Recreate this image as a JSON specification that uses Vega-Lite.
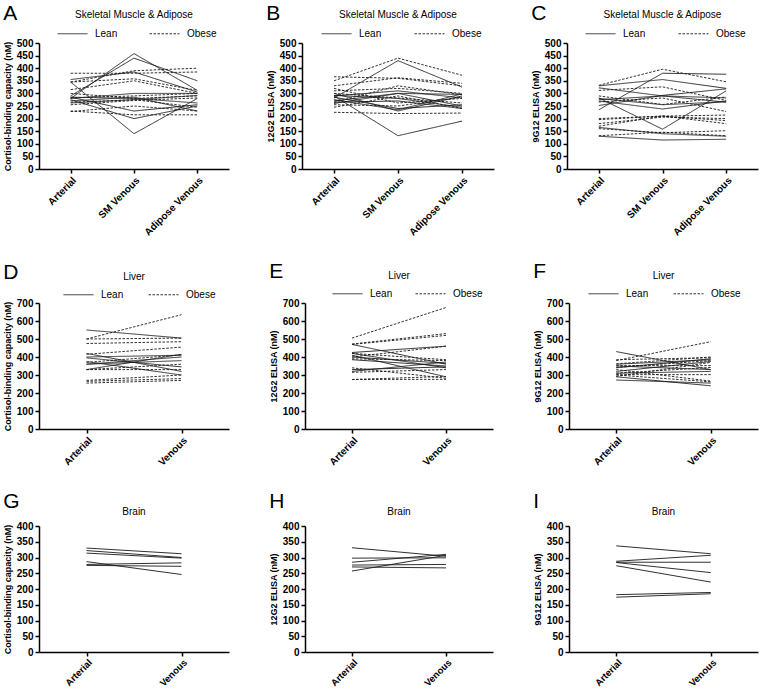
{
  "$schema": "https://vega.github.io/schema/vega-lite/v6.json",
  "background": "white",
  "padding": {"left": 3, "top": 3, "right": 2, "bottom": 0},
  "data": {"values": [
    {"p":"A","id":"L1","g":"Lean","Arterial":345,"SM Venous":140,"Adipose Venous":280},
    {"p":"A","id":"L2","g":"Lean","Arterial":290,"SM Venous":440,"Adipose Venous":350},
    {"p":"A","id":"L3","g":"Lean","Arterial":280,"SM Venous":458,"Adipose Venous":312},
    {"p":"A","id":"L4","g":"Lean","Arterial":285,"SM Venous":230,"Adipose Venous":255},
    {"p":"A","id":"L5","g":"Lean","Arterial":275,"SM Venous":200,"Adipose Venous":250},
    {"p":"A","id":"L6","g":"Lean","Arterial":280,"SM Venous":300,"Adipose Venous":300},
    {"p":"A","id":"L7","g":"Lean","Arterial":270,"SM Venous":285,"Adipose Venous":230},
    {"p":"A","id":"L8","g":"Lean","Arterial":285,"SM Venous":280,"Adipose Venous":262},
    {"p":"A","id":"L9","g":"Lean","Arterial":262,"SM Venous":275,"Adipose Venous":292},
    {"p":"A","id":"L10","g":"Lean","Arterial":355,"SM Venous":385,"Adipose Venous":305},
    {"p":"A","id":"O1","g":"Obese","Arterial":380,"SM Venous":380,"Adipose Venous":385},
    {"p":"A","id":"O2","g":"Obese","Arterial":345,"SM Venous":390,"Adipose Venous":400},
    {"p":"A","id":"O3","g":"Obese","Arterial":345,"SM Venous":358,"Adipose Venous":312},
    {"p":"A","id":"O4","g":"Obese","Arterial":315,"SM Venous":350,"Adipose Venous":300},
    {"p":"A","id":"O5","g":"Obese","Arterial":282,"SM Venous":290,"Adipose Venous":300},
    {"p":"A","id":"O6","g":"Obese","Arterial":230,"SM Venous":215,"Adipose Venous":215},
    {"p":"A","id":"O7","g":"Obese","Arterial":228,"SM Venous":250,"Adipose Venous":230},
    {"p":"A","id":"O8","g":"Obese","Arterial":300,"SM Venous":280,"Adipose Venous":290},
    {"p":"A","id":"O9","g":"Obese","Arterial":265,"SM Venous":275,"Adipose Venous":245},
    {"p":"A","id":"O10","g":"Obese","Arterial":255,"SM Venous":272,"Adipose Venous":282},

    {"p":"B","id":"L1","g":"Lean","Arterial":290,"SM Venous":132,"Adipose Venous":190},
    {"p":"B","id":"L2","g":"Lean","Arterial":282,"SM Venous":430,"Adipose Venous":325},
    {"p":"B","id":"L3","g":"Lean","Arterial":300,"SM Venous":230,"Adipose Venous":290},
    {"p":"B","id":"L4","g":"Lean","Arterial":270,"SM Venous":300,"Adipose Venous":250},
    {"p":"B","id":"L5","g":"Lean","Arterial":292,"SM Venous":280,"Adipose Venous":245},
    {"p":"B","id":"L6","g":"Lean","Arterial":260,"SM Venous":300,"Adipose Venous":296},
    {"p":"B","id":"L7","g":"Lean","Arterial":285,"SM Venous":240,"Adipose Venous":255},
    {"p":"B","id":"L8","g":"Lean","Arterial":265,"SM Venous":270,"Adipose Venous":240},
    {"p":"B","id":"L9","g":"Lean","Arterial":290,"SM Venous":310,"Adipose Venous":282},
    {"p":"B","id":"L10","g":"Lean","Arterial":275,"SM Venous":235,"Adipose Venous":298},
    {"p":"B","id":"O1","g":"Obese","Arterial":350,"SM Venous":440,"Adipose Venous":372},
    {"p":"B","id":"O2","g":"Obese","Arterial":366,"SM Venous":360,"Adipose Venous":330},
    {"p":"B","id":"O3","g":"Obese","Arterial":330,"SM Venous":362,"Adipose Venous":340},
    {"p":"B","id":"O4","g":"Obese","Arterial":310,"SM Venous":320,"Adipose Venous":300},
    {"p":"B","id":"O5","g":"Obese","Arterial":225,"SM Venous":220,"Adipose Venous":222},
    {"p":"B","id":"O6","g":"Obese","Arterial":255,"SM Venous":250,"Adipose Venous":285},
    {"p":"B","id":"O7","g":"Obese","Arterial":300,"SM Venous":282,"Adipose Venous":262},
    {"p":"B","id":"O8","g":"Obese","Arterial":265,"SM Venous":330,"Adipose Venous":295},
    {"p":"B","id":"O9","g":"Obese","Arterial":320,"SM Venous":262,"Adipose Venous":280},
    {"p":"B","id":"O10","g":"Obese","Arterial":245,"SM Venous":290,"Adipose Venous":240},

    {"p":"C","id":"L1","g":"Lean","Arterial":282,"SM Venous":158,"Adipose Venous":310},
    {"p":"C","id":"L2","g":"Lean","Arterial":235,"SM Venous":380,"Adipose Venous":376},
    {"p":"C","id":"L3","g":"Lean","Arterial":330,"SM Venous":355,"Adipose Venous":320},
    {"p":"C","id":"L4","g":"Lean","Arterial":322,"SM Venous":290,"Adipose Venous":265},
    {"p":"C","id":"L5","g":"Lean","Arterial":270,"SM Venous":238,"Adipose Venous":270},
    {"p":"C","id":"L6","g":"Lean","Arterial":252,"SM Venous":292,"Adipose Venous":318},
    {"p":"C","id":"L7","g":"Lean","Arterial":165,"SM Venous":140,"Adipose Venous":130},
    {"p":"C","id":"L8","g":"Lean","Arterial":130,"SM Venous":115,"Adipose Venous":118},
    {"p":"C","id":"L9","g":"Lean","Arterial":275,"SM Venous":290,"Adipose Venous":282},
    {"p":"C","id":"L10","g":"Lean","Arterial":280,"SM Venous":255,"Adipose Venous":267},
    {"p":"C","id":"O1","g":"Obese","Arterial":332,"SM Venous":396,"Adipose Venous":346},
    {"p":"C","id":"O2","g":"Obese","Arterial":312,"SM Venous":326,"Adipose Venous":272},
    {"p":"C","id":"O3","g":"Obese","Arterial":266,"SM Venous":282,"Adipose Venous":228},
    {"p":"C","id":"O4","g":"Obese","Arterial":196,"SM Venous":210,"Adipose Venous":214},
    {"p":"C","id":"O5","g":"Obese","Arterial":180,"SM Venous":206,"Adipose Venous":200},
    {"p":"C","id":"O6","g":"Obese","Arterial":170,"SM Venous":210,"Adipose Venous":180},
    {"p":"C","id":"O7","g":"Obese","Arterial":160,"SM Venous":144,"Adipose Venous":152},
    {"p":"C","id":"O8","g":"Obese","Arterial":132,"SM Venous":146,"Adipose Venous":132},
    {"p":"C","id":"O9","g":"Obese","Arterial":290,"SM Venous":256,"Adipose Venous":286},
    {"p":"C","id":"O10","g":"Obese","Arterial":200,"SM Venous":210,"Adipose Venous":192},

    {"p":"D","id":"L1","g":"Lean","Arterial":550,"Venous":505},
    {"p":"D","id":"L2","g":"Lean","Arterial":420,"Venous":320},
    {"p":"D","id":"L3","g":"Lean","Arterial":400,"Venous":410},
    {"p":"D","id":"L4","g":"Lean","Arterial":360,"Venous":380},
    {"p":"D","id":"L5","g":"Lean","Arterial":375,"Venous":300},
    {"p":"D","id":"L6","g":"Lean","Arterial":395,"Venous":345},
    {"p":"D","id":"L7","g":"Lean","Arterial":330,"Venous":415},
    {"p":"D","id":"L8","g":"Lean","Arterial":360,"Venous":400},
    {"p":"D","id":"O1","g":"Obese","Arterial":500,"Venous":635},
    {"p":"D","id":"O2","g":"Obese","Arterial":500,"Venous":505},
    {"p":"D","id":"O3","g":"Obese","Arterial":475,"Venous":485},
    {"p":"D","id":"O4","g":"Obese","Arterial":415,"Venous":455},
    {"p":"D","id":"O5","g":"Obese","Arterial":330,"Venous":360},
    {"p":"D","id":"O6","g":"Obese","Arterial":265,"Venous":280},
    {"p":"D","id":"O7","g":"Obese","Arterial":255,"Venous":270},
    {"p":"D","id":"O8","g":"Obese","Arterial":270,"Venous":300},
    {"p":"D","id":"O9","g":"Obese","Arterial":330,"Venous":330},
    {"p":"D","id":"O10","g":"Obese","Arterial":370,"Venous":412},

    {"p":"E","id":"L1","g":"Lean","Arterial":470,"Venous":360},
    {"p":"E","id":"L2","g":"Lean","Arterial":425,"Venous":460},
    {"p":"E","id":"L3","g":"Lean","Arterial":420,"Venous":340},
    {"p":"E","id":"L4","g":"Lean","Arterial":410,"Venous":290},
    {"p":"E","id":"L5","g":"Lean","Arterial":330,"Venous":345},
    {"p":"E","id":"L6","g":"Lean","Arterial":400,"Venous":365},
    {"p":"E","id":"L7","g":"Lean","Arterial":385,"Venous":350},
    {"p":"E","id":"L8","g":"Lean","Arterial":320,"Venous":372},
    {"p":"E","id":"O1","g":"Obese","Arterial":505,"Venous":675},
    {"p":"E","id":"O2","g":"Obese","Arterial":472,"Venous":530},
    {"p":"E","id":"O3","g":"Obese","Arterial":470,"Venous":520},
    {"p":"E","id":"O4","g":"Obese","Arterial":420,"Venous":385},
    {"p":"E","id":"O5","g":"Obese","Arterial":390,"Venous":380},
    {"p":"E","id":"O6","g":"Obese","Arterial":340,"Venous":282},
    {"p":"E","id":"O7","g":"Obese","Arterial":275,"Venous":292},
    {"p":"E","id":"O8","g":"Obese","Arterial":315,"Venous":330},
    {"p":"E","id":"O9","g":"Obese","Arterial":275,"Venous":276},
    {"p":"E","id":"O10","g":"Obese","Arterial":400,"Venous":460},

    {"p":"F","id":"L1","g":"Lean","Arterial":430,"Venous":330},
    {"p":"F","id":"L2","g":"Lean","Arterial":360,"Venous":385},
    {"p":"F","id":"L3","g":"Lean","Arterial":290,"Venous":240},
    {"p":"F","id":"L4","g":"Lean","Arterial":340,"Venous":390},
    {"p":"F","id":"L5","g":"Lean","Arterial":310,"Venous":320},
    {"p":"F","id":"L6","g":"Lean","Arterial":272,"Venous":255},
    {"p":"F","id":"L7","g":"Lean","Arterial":350,"Venous":330},
    {"p":"F","id":"L8","g":"Lean","Arterial":320,"Venous":375},
    {"p":"F","id":"O1","g":"Obese","Arterial":380,"Venous":485},
    {"p":"F","id":"O2","g":"Obese","Arterial":385,"Venous":396},
    {"p":"F","id":"O3","g":"Obese","Arterial":362,"Venous":400},
    {"p":"F","id":"O4","g":"Obese","Arterial":330,"Venous":266},
    {"p":"F","id":"O5","g":"Obese","Arterial":300,"Venous":262},
    {"p":"F","id":"O6","g":"Obese","Arterial":310,"Venous":342},
    {"p":"F","id":"O7","g":"Obese","Arterial":292,"Venous":370},
    {"p":"F","id":"O8","g":"Obese","Arterial":352,"Venous":352},
    {"p":"F","id":"O9","g":"Obese","Arterial":302,"Venous":302},
    {"p":"F","id":"O10","g":"Obese","Arterial":342,"Venous":380},

    {"p":"G","id":"L1","g":"Lean","Arterial":330,"Venous":312},
    {"p":"G","id":"L2","g":"Lean","Arterial":322,"Venous":300},
    {"p":"G","id":"L3","g":"Lean","Arterial":314,"Venous":298},
    {"p":"G","id":"L4","g":"Lean","Arterial":287,"Venous":246},
    {"p":"G","id":"L5","g":"Lean","Arterial":278,"Venous":283},
    {"p":"G","id":"L6","g":"Lean","Arterial":275,"Venous":272},

    {"p":"H","id":"L1","g":"Lean","Arterial":331,"Venous":304},
    {"p":"H","id":"L2","g":"Lean","Arterial":298,"Venous":299},
    {"p":"H","id":"L3","g":"Lean","Arterial":285,"Venous":310},
    {"p":"H","id":"L4","g":"Lean","Arterial":276,"Venous":278},
    {"p":"H","id":"L5","g":"Lean","Arterial":270,"Venous":267},
    {"p":"H","id":"L6","g":"Lean","Arterial":257,"Venous":307},

    {"p":"I","id":"L1","g":"Lean","Arterial":337,"Venous":312},
    {"p":"I","id":"L2","g":"Lean","Arterial":288,"Venous":307},
    {"p":"I","id":"L3","g":"Lean","Arterial":285,"Venous":285},
    {"p":"I","id":"L4","g":"Lean","Arterial":284,"Venous":252},
    {"p":"I","id":"L5","g":"Lean","Arterial":274,"Venous":222},
    {"p":"I","id":"L6","g":"Lean","Arterial":182,"Venous":189},
    {"p":"I","id":"L7","g":"Lean","Arterial":174,"Venous":185}
  ]},
  "config": {
    "font": "Liberation Sans",
    "view": {"stroke": null},
    "title": {"fontSize": 10, "fontWeight": "normal", "color": "black", "offset": 6, "anchor": "middle", "frame": "group"},
    "axis": {"domainColor": "black", "domainWidth": 1.5, "tickColor": "black", "tickWidth": 1.5, "tickSize": 4, "labelFontSize": 10, "labelFontWeight": "bold", "labelColor": "black", "titleFontSize": 9, "titleFontWeight": "bold", "titleColor": "black", "grid": false, "labelPadding": 2, "titlePadding": 4},
    "axisX": {"labelAngle": -45, "labelOverlap": false},
    "line": {"strokeWidth": 0.9, "color": "#1a1a1a"},
    "legend": {"labelFontSize": 10, "labelColor": "black", "labelOffset": 7, "symbolType": "stroke", "symbolSize": 900, "symbolStrokeWidth": 1, "symbolStrokeColor": "#1a1a1a", "padding": 0}
  },
  "resolve": {"scale": {"strokeDash": "independent"}, "legend": {"strokeDash": "independent"}},
  "spacing": 23,
  "vconcat": [
    {
      "spacing": 37,
      "resolve": {"scale": {"strokeDash": "independent"}, "legend": {"strokeDash": "independent"}},
      "hconcat": [
        {
          "title": {"text": "A", "anchor": "start", "frame": "bounds", "fontSize": 21, "offset": -14},
          "resolve": {"scale": {"strokeDash": "independent"}, "legend": {"strokeDash": "independent"}},
          "vconcat": [{
            "width": 190, "height": 126,
            "title": {"text": "Skeletal Muscle & Adipose", "offset": -2},
            "transform": [{"filter": "datum.p == 'A'"}, {"fold": ["Arterial", "SM Venous", "Adipose Venous"], "as": ["site", "value"]}],
            "mark": {"type": "line"},
            "encoding": {
              "x": {"field": "site", "type": "nominal", "sort": ["Arterial", "SM Venous", "Adipose Venous"], "scale": {"type": "point", "padding": 0.5}, "axis": {"title": null}},
              "y": {"field": "value", "type": "quantitative", "scale": {"domain": [0, 500], "nice": false}, "axis": {"title": "Cortisol-binding capacity (nM)", "values": [0,50,100,150,200,250,300,350,400,450,500]}},
              "strokeDash": {"field": "g", "type": "nominal", "scale": {"domain": ["Lean", "Obese"], "range": [[1, 0], [2.5, 1.5]]}, "legend": {"title": null, "orient": "none", "direction": "horizontal", "legendX": 18, "legendY": -25, "columnPadding": 29}},
              "detail": {"field": "id", "type": "nominal"}
            }
          }]
        },
        {
          "title": {"text": "B", "anchor": "start", "frame": "bounds", "fontSize": 21, "offset": -14},
          "resolve": {"scale": {"strokeDash": "independent"}, "legend": {"strokeDash": "independent"}},
          "vconcat": [{
            "width": 192, "height": 126,
            "title": {"text": "Skeletal Muscle & Adipose", "offset": -2},
            "transform": [{"filter": "datum.p == 'B'"}, {"fold": ["Arterial", "SM Venous", "Adipose Venous"], "as": ["site", "value"]}],
            "mark": {"type": "line"},
            "encoding": {
              "x": {"field": "site", "type": "nominal", "sort": ["Arterial", "SM Venous", "Adipose Venous"], "scale": {"type": "point", "padding": 0.5}, "axis": {"title": null}},
              "y": {"field": "value", "type": "quantitative", "scale": {"domain": [0, 500], "nice": false}, "axis": {"title": "12G2 ELISA (nM)", "values": [0,50,100,150,200,250,300,350,400,450,500]}},
              "strokeDash": {"field": "g", "type": "nominal", "scale": {"domain": ["Lean", "Obese"], "range": [[1, 0], [2.5, 1.5]]}, "legend": {"title": null, "orient": "none", "direction": "horizontal", "legendX": 19, "legendY": -25, "columnPadding": 30}},
              "detail": {"field": "id", "type": "nominal"}
            }
          }]
        },
        {
          "title": {"text": "C", "anchor": "start", "frame": "bounds", "fontSize": 21, "offset": -14},
          "resolve": {"scale": {"strokeDash": "independent"}, "legend": {"strokeDash": "independent"}},
          "vconcat": [{
            "width": 191, "height": 126,
            "title": {"text": "Skeletal Muscle & Adipose", "offset": -2},
            "transform": [{"filter": "datum.p == 'C'"}, {"fold": ["Arterial", "SM Venous", "Adipose Venous"], "as": ["site", "value"]}],
            "mark": {"type": "line"},
            "encoding": {
              "x": {"field": "site", "type": "nominal", "sort": ["Arterial", "SM Venous", "Adipose Venous"], "scale": {"type": "point", "padding": 0.5}, "axis": {"title": null}},
              "y": {"field": "value", "type": "quantitative", "scale": {"domain": [0, 500], "nice": false}, "axis": {"title": "9G12 ELISA (nM)", "values": [0,50,100,150,200,250,300,350,400,450,500]}},
              "strokeDash": {"field": "g", "type": "nominal", "scale": {"domain": ["Lean", "Obese"], "range": [[1, 0], [2.5, 1.5]]}, "legend": {"title": null, "orient": "none", "direction": "horizontal", "legendX": 18, "legendY": -25, "columnPadding": 30}},
              "detail": {"field": "id", "type": "nominal"}
            }
          }]
        }
      ]
    },
    {
      "spacing": 40,
      "resolve": {"scale": {"strokeDash": "independent"}, "legend": {"strokeDash": "independent"}},
      "hconcat": [
        {
          "title": {"text": "D", "anchor": "start", "frame": "bounds", "fontSize": 21, "offset": -11},
          "resolve": {"scale": {"strokeDash": "independent"}, "legend": {"strokeDash": "independent"}},
          "vconcat": [{
            "width": 190, "height": 126,
            "title": {"text": "Liver", "offset": -3},
            "transform": [{"filter": "datum.p == 'D'"}, {"fold": ["Arterial", "Venous"], "as": ["site", "value"]}],
            "mark": {"type": "line"},
            "encoding": {
              "x": {"field": "site", "type": "nominal", "sort": ["Arterial", "Venous"], "scale": {"type": "point", "padding": 0.5}, "axis": {"title": null}},
              "y": {"field": "value", "type": "quantitative", "scale": {"domain": [0, 700], "nice": false}, "axis": {"title": "Cortisol-binding capacity (nM)", "values": [0,100,200,300,400,500,600,700]}},
              "strokeDash": {"field": "g", "type": "nominal", "scale": {"domain": ["Lean", "Obese"], "range": [[1, 0], [2.5, 1.5]]}, "legend": {"title": null, "orient": "none", "direction": "horizontal", "legendX": 24, "legendY": -24, "columnPadding": 22}},
              "detail": {"field": "id", "type": "nominal"}
            }
          }]
        },
        {
          "title": {"text": "E", "anchor": "start", "frame": "bounds", "fontSize": 21, "offset": -11},
          "resolve": {"scale": {"strokeDash": "independent"}, "legend": {"strokeDash": "independent"}},
          "vconcat": [{
            "width": 188, "height": 126,
            "title": {"text": "Liver", "offset": -3},
            "transform": [{"filter": "datum.p == 'E'"}, {"fold": ["Arterial", "Venous"], "as": ["site", "value"]}],
            "mark": {"type": "line"},
            "encoding": {
              "x": {"field": "site", "type": "nominal", "sort": ["Arterial", "Venous"], "scale": {"type": "point", "padding": 0.5}, "axis": {"title": null}},
              "y": {"field": "value", "type": "quantitative", "scale": {"domain": [0, 700], "nice": false}, "axis": {"title": "12G2 ELISA (nM)", "values": [0,100,200,300,400,500,600,700]}},
              "strokeDash": {"field": "g", "type": "nominal", "scale": {"domain": ["Lean", "Obese"], "range": [[1, 0], [2.5, 1.5]]}, "legend": {"title": null, "orient": "none", "direction": "horizontal", "legendX": 27, "legendY": -25, "columnPadding": 20}},
              "detail": {"field": "id", "type": "nominal"}
            }
          }]
        },
        {
          "title": {"text": "F", "anchor": "start", "frame": "bounds", "fontSize": 21, "offset": -11},
          "resolve": {"scale": {"strokeDash": "independent"}, "legend": {"strokeDash": "independent"}},
          "vconcat": [{
            "width": 189, "height": 126,
            "title": {"text": "Liver", "offset": -3},
            "transform": [{"filter": "datum.p == 'F'"}, {"fold": ["Arterial", "Venous"], "as": ["site", "value"]}],
            "mark": {"type": "line"},
            "encoding": {
              "x": {"field": "site", "type": "nominal", "sort": ["Arterial", "Venous"], "scale": {"type": "point", "padding": 0.5}, "axis": {"title": null}},
              "y": {"field": "value", "type": "quantitative", "scale": {"domain": [0, 700], "nice": false}, "axis": {"title": "9G12 ELISA (nM)", "values": [0,100,200,300,400,500,600,700]}},
              "strokeDash": {"field": "g", "type": "nominal", "scale": {"domain": ["Lean", "Obese"], "range": [[1, 0], [2.5, 1.5]]}, "legend": {"title": null, "orient": "none", "direction": "horizontal", "legendX": 19, "legendY": -25, "columnPadding": 22}},
              "detail": {"field": "id", "type": "nominal"}
            }
          }]
        }
      ]
    },
    {
      "spacing": 40,
      "resolve": {"scale": {"strokeDash": "independent"}, "legend": {"strokeDash": "independent"}},
      "hconcat": [
        {
          "title": {"text": "G", "anchor": "start", "frame": "bounds", "fontSize": 21, "offset": -5},
          "vconcat": [{
            "width": 190, "height": 126,
            "title": {"text": "Brain", "offset": 4},
            "transform": [{"filter": "datum.p == 'G'"}, {"fold": ["Arterial", "Venous"], "as": ["site", "value"]}],
            "mark": {"type": "line"},
            "encoding": {
              "x": {"field": "site", "type": "nominal", "sort": ["Arterial", "Venous"], "scale": {"type": "point", "padding": 0.5}, "axis": {"title": null, "labelFontSize": 9.5, "labelPadding": 1}},
              "y": {"field": "value", "type": "quantitative", "scale": {"domain": [0, 400], "nice": false}, "axis": {"title": "Cortisol-binding capacity (nM)", "values": [0,50,100,150,200,250,300,350,400]}},
              "detail": {"field": "id", "type": "nominal"}
            }
          }]
        },
        {
          "title": {"text": "H", "anchor": "start", "frame": "bounds", "fontSize": 21, "offset": -5},
          "vconcat": [{
            "width": 188, "height": 126,
            "title": {"text": "Brain", "offset": 4},
            "transform": [{"filter": "datum.p == 'H'"}, {"fold": ["Arterial", "Venous"], "as": ["site", "value"]}],
            "mark": {"type": "line"},
            "encoding": {
              "x": {"field": "site", "type": "nominal", "sort": ["Arterial", "Venous"], "scale": {"type": "point", "padding": 0.5}, "axis": {"title": null, "labelFontSize": 9.5, "labelPadding": 1}},
              "y": {"field": "value", "type": "quantitative", "scale": {"domain": [0, 400], "nice": false}, "axis": {"title": "12G2 ELISA (nM)", "values": [0,50,100,150,200,250,300,350,400]}},
              "detail": {"field": "id", "type": "nominal"}
            }
          }]
        },
        {
          "title": {"text": "I", "anchor": "start", "frame": "bounds", "fontSize": 21, "offset": -5},
          "vconcat": [{
            "width": 189, "height": 126,
            "title": {"text": "Brain", "offset": 4},
            "transform": [{"filter": "datum.p == 'I'"}, {"fold": ["Arterial", "Venous"], "as": ["site", "value"]}],
            "mark": {"type": "line"},
            "encoding": {
              "x": {"field": "site", "type": "nominal", "sort": ["Arterial", "Venous"], "scale": {"type": "point", "padding": 0.5}, "axis": {"title": null, "labelFontSize": 9.5, "labelPadding": 1}},
              "y": {"field": "value", "type": "quantitative", "scale": {"domain": [0, 400], "nice": false}, "axis": {"title": "9G12 ELISA (nM)", "values": [0,50,100,150,200,250,300,350,400]}},
              "detail": {"field": "id", "type": "nominal"}
            }
          }]
        }
      ]
    }
  ]
}
